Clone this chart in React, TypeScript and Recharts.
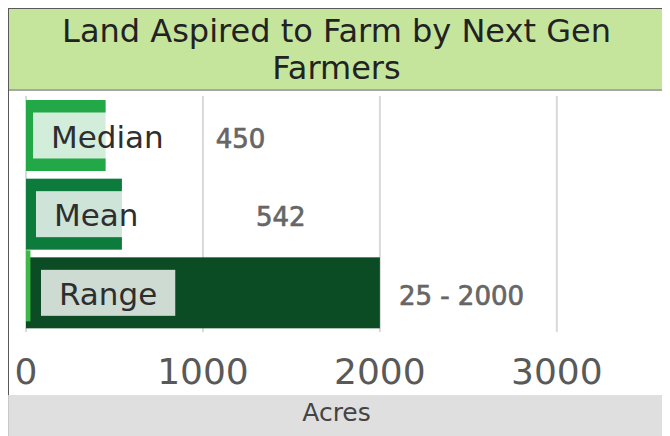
import React from "react";
import { BarChart, Bar, XAxis, YAxis, CartesianGrid } from "recharts";

const categories = ["Median", "Mean", "Range"];
const values = [450, 542, 2000];
const lows: (number | null)[] = [null, null, 25];
const xTicks = [0, 1000, 2000, 3000];

const BAR_COLORS = ["#22a846", "#0c7b3c", "#0b4c24"];
const LOW_COLOR = "#3fb84a";
const BOX_DX = [7, 10, 15];
const VALUE_DX = [110, 134, 19];

const FONT = '"DejaVu Sans", Verdana, sans-serif';

const data = categories.map((name, i) => ({ name, value: values[i], low: lows[i] }));

let ctx: CanvasRenderingContext2D | null = null;
function textWidth(s: string, font: string) {
    if (!ctx) ctx = document.createElement("canvas").getContext("2d");
    if (!ctx) return s.length * 18;
    ctx.font = font;
    return ctx.measureText(s).width;
}

function ValueBar(props: any) {
    const { x, y, width, height, index, payload } = props;
    const cy = y + height / 2;
    const bx = x + BOX_DX[index];
    const tw = textWidth(payload.name, `31px ${FONT}`);
    const label = payload.low != null ? `${payload.low} - ${payload.value}` : `${payload.value}`;
    return (
        <g>
            <rect x={x} y={y} width={width} height={height} fill={BAR_COLORS[index]} />
            <rect x={bx} y={cy - 23} width={tw + 36} height={46} fill="#fff" fillOpacity={0.8} />
            <text x={bx + 18} y={cy + 12} fontSize={31} fill="#2e2e2e" fontFamily={FONT}>
                {payload.name}
            </text>
            <text x={x + width + VALUE_DX[index]} y={cy + 12} fontSize={26} fill="#666"
                stroke="#666" strokeWidth={0.7} fontFamily={FONT}>
                {label}
            </text>
        </g>
    );
}

function LowBar(props: any) {
    const { x, y, width, height } = props;
    if (!width || width <= 0) return null;
    // drawn a little above the range bar, like the original
    return <rect x={x} y={y - 7} width={width} height={height} fill={LOW_COLOR} />;
}

export default function App() {
    return (
        <div style={{ width: 655, border: "1px solid #595959", borderBottom: "none", fontFamily: FONT }}>
            <div style={{
                height: 82, boxSizing: "border-box", paddingTop: 4, background: "#c5e59c",
                borderBottom: "2px solid #a6a6a6", textAlign: "center", fontSize: 32,
                lineHeight: "37px", color: "#222",
            }}>
                Land Aspired to Farm by Next Gen Farmers
            </div>
            <BarChart width={655} height={304} data={data} layout="vertical"
                margin={{ top: 5, right: 1, bottom: 0, left: 17 }} barSize={71} barGap={-71}>
                <CartesianGrid horizontal={false} stroke="#d9d9d9" strokeWidth={2} />
                <XAxis type="number" domain={[0, 3600]} ticks={xTicks} axisLine={false} tickLine={false}
                    height={63} tickMargin={20} interval={0}
                    tick={{ fontSize: 36, fill: "#595959", fontFamily: FONT }} />
                <YAxis type="category" dataKey="name" hide />
                <Bar dataKey="value" shape={<ValueBar />} isAnimationActive={false} />
                <Bar dataKey="low" shape={<LowBar />} isAnimationActive={false} />
            </BarChart>
            <div style={{
                height: 41, background: "#dfdfdf", borderLeft: "1px solid #c8c8c8", marginLeft: -1,
                textAlign: "center", fontSize: 25, lineHeight: "36px", color: "#444",
            }}>
                Acres
            </div>
        </div>
    );
}
